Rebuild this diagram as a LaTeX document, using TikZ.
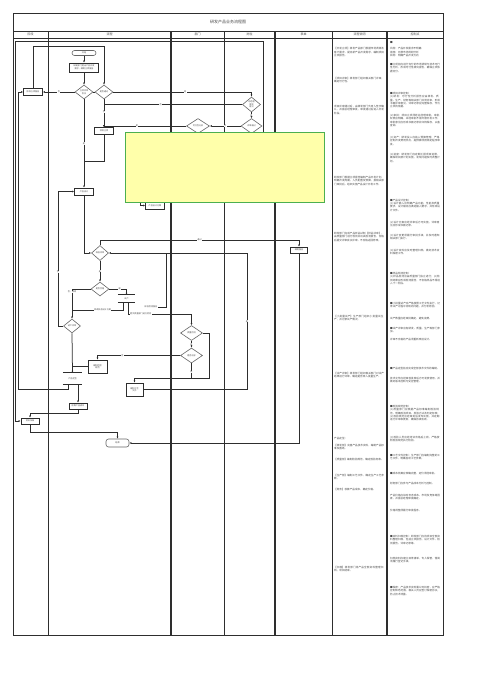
\documentclass[tikz,border=0pt]{standalone}
\usepackage{fontspec}
\setmainfont{Noto Sans CJK SC}
\XeTeXlinebreaklocale "zh"
\XeTeXlinebreakskip=0pt plus 1pt
\usetikzlibrary{shapes.geometric,arrows.meta,calc}
\definecolor{lc}{HTML}{2E2E2E}
\definecolor{dc}{HTML}{666666}
\definecolor{notey}{HTML}{FFFFAA}
\definecolor{noteg}{HTML}{4CAF50}
\definecolor{tc}{HTML}{4A4A4A}
\newcommand{\mytf}{\fontsize{2.1}{2.6}\selectfont}
\newcommand{\mypf}{\fontsize{2.6}{3.3}\selectfont}
\begin{document}
\begin{tikzpicture}[x=1pt,y=-1pt,
  tbl/.style={draw=lc,line width=0.9pt},
  tblk/.style={draw=lc,line width=1.5pt},
  ln/.style={draw=lc,line width=0.75pt},
  arr/.style={draw=lc,line width=0.75pt,-{Latex[length=2pt,width=1.8pt]}},
  boxn/.style={draw=lc,line width=0.8pt,fill=white,minimum width=19pt,minimum height=7pt,inner sep=0.2pt,font=\mytf,align=center,text=tc},
  term/.style={draw=dc,line width=0.6pt,fill=white,rounded corners=2.5pt,minimum width=24pt,minimum height=5pt,inner sep=0.2pt,font=\mytf,text=tc},
  dia/.style={diamond,draw=dc,line width=0.6pt,fill=white,minimum width=18pt,minimum height=14pt,inner sep=0pt},
  dtx/.style={font=\mytf,align=center,text=tc,inner sep=0pt},
  barn/.style={minimum width=17pt,minimum height=7pt,inner sep=0pt,font=\mytf,text=tc},
  lab/.style={font=\mytf,inner sep=0.3pt,fill=white,text=tc},
  para/.style={anchor=north west,text width=50pt,inner sep=0pt,font=\mypf,align=left,text=tc},
  hdr/.style={font=\fontsize{3}{3.5}\selectfont,text=tc,inner sep=0pt}
]
\useasboundingbox (0,0) rectangle (496,678);
\fill[white] (0,0) rectangle (496,678);

% ---------- table ----------
\draw[tbl] (13,13) rectangle (443,635);
\draw[tbl] (13,31) -- (443,31);
\draw[tbl] (13,38) -- (443,38);
\foreach \x in {48,224,332} \draw[tbl] (\x,31) -- (\x,635);
\foreach \x in {171,275,387} \draw[tblk] (\x,31) -- (\x,635);
\node[font=\fontsize{4}{5}\selectfont,text=tc] (title) at (228,22) {研发产品业务流程图};
\node[hdr] (h1) at (30.5,34.5) {阶段};
\node[hdr] (h2) at (109.5,34.5) {流程};
\node[hdr] (h3) at (197.5,34.5) {部门};
\node[hdr] (h4) at (249.5,34.5) {岗位};
\node[hdr] (h5) at (303.5,34.5) {表单};
\node[hdr] (h6) at (359.5,34.5) {流程说明};
\node[hdr] (h7) at (415,34.5) {控制点};

% ---------- flow nodes ----------
\node[term] (st) at (84,53) {开始};
\node[boxn,minimum width=29pt,minimum height=9pt] (b1) at (84,67.5) {研发部门提出产品开发\\需求，编制立项报告};
\node[dia] (d1) at (84,92) {}; \node[dtx] at (d1) {立项评审\\会议};
\node[dia] (d2) at (104,92) {}; \node[dtx] at (d2) {是否通过};
\node[boxn] (bL) at (33,92) {修改立项报告};
\node[dia,minimum width=18pt,minimum height=15pt] (d3) at (251.5,104.5) {}; \node[dtx] at (d3) {总经理\\审批\\意见};
\node[dia,minimum width=23pt,minimum height=15pt] (d4) at (198,126) {}; \node[dtx] at (d4) {可行性分析};
\node[dia,minimum width=21pt,minimum height=15pt] (d5) at (251.5,126) {}; \node[dtx] at (d5) {评审通过};
\node[boxn] (b2) at (104,131) {项目立项};
\node[boxn] (b3) at (84,191.5) {产品设计};
\node[boxn] (b4) at (155,205.5) {产品设计方案};
\node[dia,minimum width=17pt,minimum height=15pt] (d6) at (100,253) {}; \node[dtx] at (d6) {样品评审};
\node[boxn,minimum width=17pt,minimum height=6pt] (b5) at (299,250) {编制报告};
\node[dia,minimum width=18pt,minimum height=14pt] (d7) at (100,289) {}; \node[dtx] at (d7) {是否合格};
\node[barn] (bc) at (126.5,298.5) {试产};
\node[dia,minimum width=17pt,minimum height=14pt] (d8) at (72,326) {}; \node[dtx] at (d8) {试产评审};
\node[dia,minimum width=22pt,minimum height=15pt] (dA) at (191.5,333) {}; \node[dtx] at (dA) {质量检测};
\node[dia,minimum width=22pt,minimum height=15pt] (dB) at (191.5,355.5) {}; \node[dtx] at (dB) {是否达标};
\node[boxn,minimum width=19pt,minimum height=13pt] (b6) at (97.5,366.5) {编制检验\\规范};
\node[barn,minimum width=19pt,minimum height=11pt] (bj) at (72.5,378.5) {产品定型};
\node[boxn,minimum width=17pt,minimum height=13pt] (b7) at (134.5,389.5) {编制工艺\\文件};
\node[boxn,minimum width=18pt,minimum height=6pt] (b8) at (78,406) {核算产品成本};
\node[boxn,minimum width=18pt,minimum height=6pt] (b9) at (30,421) {资料归档};
\node[term,minimum width=23pt,minimum height=8pt] (en) at (117.5,443) {结束};

% bars (two lines)
\draw[ln] (bc.north west) -- (bc.north east);
\draw[ln] (bc.south west) -- (bc.south east);
\draw[ln] (bj.north west) -- (bj.north east);
\draw[ln] (bj.south west) -- (bj.south east);

% ---------- connectors ----------
\draw[arr] (st) -- (b1);
\draw[arr] (b1) -- (d1);
\draw[arr] (d1.west) -- (bL.east) node[lab,midway] {否};
\draw[ln] (d1.east) -- (d2.west);
\draw[arr] (bL.north) |- (104,46) -- (d2.north);
\draw[arr] (d2.east) -| (d3.north) node[lab,pos=0.26] {是};
\draw[arr] (d2.south) -- (b2.north) node[lab,pos=0.45] {否};
\draw[ln] (d3.west) -- (104,104.5) node[lab,pos=0.59] {否};
\draw[arr] (d3.south) -- (d5.north) node[lab,midway] {是};
\draw[arr] (d5.west) -- (d4.east) node[lab,midway] {否};
\draw[arr] (d4.west) -- (104,126) node[lab,pos=0.6] {是} -- (b2.north);
\draw[ln] (b2.south) |- (84,161);
\draw[arr] (d1.south) -- (b3.north) node[lab,pos=0.5] {是};
\draw[arr] (b3.south) |- (d6.west);
\draw[arr] (d6.north) |- (299,240) node[lab,pos=0.75] {通过} -- (b5.north);
\draw[arr] (b5.south) |- (en.east);
\draw[arr] (d6.south) -- (d7.north) node[lab,midway] {是};
\draw[arr] (d7.east) -| (bc.north) node[lab,pos=0.3] {是};
\draw[arr] (d7.west) -| (d8.north) node[lab,pos=0.55] {否，修改};
\draw[ln] ($(bc.south)+(-3.5,0)$) |- (72,310) node[lab,pos=0.7] {修改样品设计方案};
\draw[arr] ($(bc.south)+(1.5,0)$) |- (191.5,314) node[lab,pos=0.6] {提交质量部门进行检测} -- (dA.north);
\draw[ln] (166,253) -- (166,307) -- (151,307) node[lab,pos=1] {样品检测报告};
\draw[arr] (d8.west) -| (58,191.5) node[lab,pos=0.7] {否} -- (b3.west);
\draw[arr] (d8.south) -- (bj.north);
\draw[ln] (b6.west) -- (72,366.5);
\draw[arr] (dB.west) -| (b6.north) node[lab,pos=0.35] {否};
\draw[arr] (dA.south) -- (dB.north) node[lab,midway] {是};
\draw[arr] (dA.east) -| (209,378) -| (b7.north);
\draw[ln] (dB.south) -- (191.5,378) node[lab,pos=0.6] {是};
\draw[arr] (b7.east) -| (247,253) node[lab,pos=0.75] {是} -- (d6.east);
\draw[arr] ($(bj.south)+(-4.5,0)$) |- (18,389) -- (18,92) -- (bL.west);
\draw[arr] (b8.north |- bj.south) -- (b8.north);
\draw[arr] (b8.south) |- (30,413) -- (b9.north);
\draw[arr] (b9.south) |- (117.5,432) -- (en.north);
\draw[arr] (263,150) -- (263,41) -- (15,41) -- (15,421) -- (b9.west);
\draw[arr] (140,195) |- (b4.west);

% ---------- note ----------
\draw[draw=noteg,fill=notey,line width=0.8pt] (125,132) rectangle (324,202);

% ---------- text columns ----------
\node[para] (p1) at (334,47.5) {【开发立项】研发产品部门根据市场调研及客户需求，提出新产品开发需求，编制项目立项报告。};
\node[para] (p2) at (334,77) {【项目评审】研发部门组织相关部门评审，确定可行性。};
\node[para] (p3) at (334,105) {项目评审通过后，由研发部门负责人签字确认，并报总经理审批，审批通过后进入开发阶段。};
\node[para] (p4) at (334,176) {研发部门根据立项报告编制产品开发计划，明确开发周期、人员配置及预算，报相关部门审批后，组织实施产品设计开发工作。};
\node[para] (p5) at (334,232) {研发部门完成产品样品试制【样品评审】，由质量部门进行检测并出具检测报告，合格后提交评审会议评审，不合格返回修改。};
\node[para] (p6) at (334,315) {【小批量试产】生产部门组织小批量试生产，并记录试产情况。};
\node[para] (p7) at (334,372) {【试产评审】研发部门组织相关部门对试产结果进行评审，确定是否转入批量生产。};
\node[para] (p8) at (334,437) {产品定型：};
\node[para] (p9) at (334,444) {【研发部】完善产品技术资料，编制产品标准及图纸。};
\node[para] (p10) at (334,458) {【质量部】编制检验规范，确定检验标准。};
\node[para] (p11) at (334,474) {【生产部】编制工艺文件，确定生产工艺参数。};
\node[para] (p12) at (334,488) {【财务】核算产品成本，确定价格。};
\node[para] (p13) at (334,566) {【归档】研发部门将产品全部资料整理归档，项目结束。};

\node[para] (c1a) at (390,41) {■};
\node[para] (c1) at (390,47.5) {风险：产品开发需求不明确\\措施：开展市场调研分析\\目标：明确产品开发方向};
\node[para] (c2) at (390,63) {■立项前应进行充分的市场调研与技术可行性分析，形成可行性研究报告，确保立项依据充分。};
\node[para] (c3) at (390,92) {■项目评审控制：\\(1)研发：可行性分析报告应由研发、质量、生产、财务等相关部门共同评审，形成书面评审意见，评审记录应完整保存，作为立项的依据。};
\node[para] (c4) at (390,114) {(2)审批：项目立项须经总经理审批，审批权限应明确，未经审批不得开展开发工作，审批意见应形成书面记录并归档保存，以备查阅。};
\node[para] (c5) at (390,136) {(3)资产：研发投入应纳入预算管理，严格控制开发费用支出，超预算须按规定程序审批。};
\node[para] (c6) at (390,153) {(4)进度：研发部门应定期汇报项目进展，确保项目按计划实施，发现问题及时调整计划。};
\node[para] (c7) at (390,199) {■产品设计控制：\\(1)设计输入应明确产品功能、性能及质量要求，设计输出应满足输入要求，并形成设计文件。};
\node[para] (c8) at (390,221) {(2)设计方案应经评审后方可实施，评审意见应形成书面记录。};
\node[para] (c9) at (390,234) {(3)设计变更须履行审批手续，并及时通知相关部门执行。};
\node[para] (c10) at (390,249) {(4)设计资料应及时整理归档，做好技术资料保密工作。};
\node[para] (c11) at (390,272) {■样品检测控制：\\(1)样品检测应由质量部门独立进行；(2)检测结果应形成检测报告，不合格样品不得进入下一阶段。};
\node[para] (c12) at (390,302) {■小批量试产应严格按照工艺文件执行，记录试产过程中出现的问题，并分析原因。};
\node[para] (c13) at (390,317) {试产数量应经审批确定，避免浪费。};
\node[para] (c14) at (390,327) {■试产评审应有研发、质量、生产等部门参加。};
\node[para] (c15) at (390,338) {评审不合格的产品须重新改进设计。};
\node[para] (c16) at (390,367) {■产品定型前应完成全部技术文件的编制。};
\node[para] (c17) at (390,377) {技术文件应经审核批准后方可发放使用，并做好版本控制与受控管理。};
\node[para] (c18) at (390,405) {■检验规范控制：\\(1)质量部门应根据产品标准编制检验规范，明确检验项目、检验方法及判定标准；(2)检验规范应经审批后发布实施，并定期进行评审和更新，确保持续有效。};
\node[para] (c19) at (390,436) {(3)检验人员应经培训合格后上岗，严格按照检验规范执行检验。};
\node[para] (c20) at (390,454) {■工艺文件控制：生产部门应编制完整的工艺文件，明确各项工艺参数。};
\node[para] (c21) at (390,472) {■成本核算应准确完整，定价须经审批。};
\node[para] (c22) at (390,482) {财务部门应参与产品成本分析与控制。};
\node[para] (c23) at (390,494) {产品价格应综合考虑成本、市场及竞争等因素，并报总经理审批确定。};
\node[para] (c24) at (390,509) {价格调整须履行审批程序。};
\node[para] (c25) at (390,535) {■资料归档控制：研发部门应将项目全部资料整理归档，包括立项报告、设计文件、检测报告、评审记录等。};
\node[para] (c26) at (390,557) {归档资料应建立目录清单，专人保管，借阅须履行登记手续。};
\node[para] (c27) at (390,586) {■保密：产品技术资料属公司机密，应严格控制知悉范围，相关人员应签订保密协议，防止技术泄露。};
\end{tikzpicture}
\end{document}
